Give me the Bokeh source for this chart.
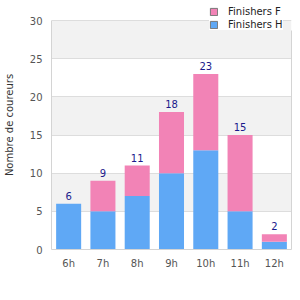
from bokeh.plotting import figure
from bokeh.models import (ColumnDataSource, FactorRange, Range1d, SingleIntervalTicker,
                          Legend, LegendItem, LinearAxis, FixedTicker)
from bokeh.core.properties import value
from bokeh.embed import file_html
from bokeh.resources import INLINE

hours = ["6h", "7h", "8h", "9h", "10h", "11h", "12h"]
finishers_h = [6, 5, 7, 10, 13, 5, 1]
finishers_f = [0, 4, 4, 8, 10, 10, 1]
totals = [h + f for h, f in zip(finishers_h, finishers_f)]
y_max = 30

PINK = "#F283B6"
BLUE = "#5FA8F5"
FONT = "DejaVu Sans"
AXIS_GRAY = "#D4D4D4"

src = ColumnDataSource(dict(
    hours=hours, h=finishers_h, f=finishers_f,
    total=totals, label=[str(t) for t in totals],
))

# frame spans the full height above the x axis; the value axis stops at y_max
FRAME_H = 249
AXIS_TOP = 20
LEGEND_BOTTOM = 30
y_end = y_max * FRAME_H / (FRAME_H - AXIS_TOP)

p = figure(width=300, height=300, x_range=FactorRange(*hours, range_padding=0),
           y_range=Range1d(0, y_end), output_backend="svg", toolbar_location=None,
           min_border_left=50, min_border_right=9, min_border_top=0, min_border_bottom=51)

p.vbar_stack(["h", "f"], x="hours", width=0.73, source=src,
             fill_color=[BLUE, PINK], line_color=None)

p.text(x="hours", y="total", text="label", source=src, text_align="center",
       text_baseline="bottom", y_offset=-4, text_color="#1A1A8C",
       text_font=value(FONT), text_font_size="10px")

# legend dummies (outside visible range)
r_f = p.vbar(x=["6h"], bottom=[-10], top=[-5], width=0.5, fill_color=PINK, line_color="#777777")
r_h = p.vbar(x=["6h"], bottom=[-10], top=[-5], width=0.5, fill_color=BLUE, line_color="#777777")
legend = Legend(items=[LegendItem(label="Finishers F", renderers=[r_f]),
                       LegendItem(label="Finishers H", renderers=[r_h])],
                location=(158, FRAME_H - LEGEND_BOTTOM), background_fill_color="white",
                background_fill_alpha=1,
                border_line_color=None, padding=5, margin=0, spacing=2,
                glyph_width=9, glyph_height=9, label_standoff=10,
                label_text_font=FONT, label_text_font_size="10px",
                label_text_color="#222222", label_height=11)
p.add_layout(legend, "center")

p.yaxis.ticker = SingleIntervalTicker(interval=5)
p.yaxis.bounds = (0, y_max)
p.yaxis.axis_label = "Nombre de coureurs"
p.yaxis.axis_label_text_font = FONT
p.yaxis.axis_label_text_font_size = "10px"
p.yaxis.axis_label_text_font_style = "normal"
p.yaxis.axis_label_text_color = "#333333"
p.yaxis.axis_label_standoff = 12
p.yaxis.major_label_standoff = 9

for ax in (p.xaxis, p.yaxis):
    ax.major_tick_line_color = None
    ax.minor_tick_line_color = None
    ax.major_tick_out = 0
    ax.major_tick_in = 0
    ax.minor_tick_out = 0
    ax.axis_line_color = AXIS_GRAY
    ax.major_label_text_font = FONT
    ax.major_label_text_font_size = "10px"
    ax.major_label_text_color = "#555555"
p.xaxis.major_label_standoff = 8

# right border line, stopping under the legend box
right = LinearAxis(bounds=(0, y_max * (FRAME_H - LEGEND_BOTTOM) / (FRAME_H - AXIS_TOP)),
                   ticker=FixedTicker(ticks=[]), major_tick_line_color=None,
                   minor_tick_line_color=None, major_tick_out=0, minor_tick_out=0,
                   major_label_standoff=0, axis_line_color=AXIS_GRAY)
p.add_layout(right, "right")

p.xgrid.grid_line_color = None
p.ygrid.grid_line_color = "#DDDDDD"
p.ygrid.band_fill_color = "#F2F2F2"
p.ygrid.band_fill_alpha = 1
p.ygrid.bounds = (0, y_max)
p.outline_line_color = None
p.background_fill_color = "white"
p.border_fill_color = "white"

open("out.html", "w").write(file_html(p, INLINE))
